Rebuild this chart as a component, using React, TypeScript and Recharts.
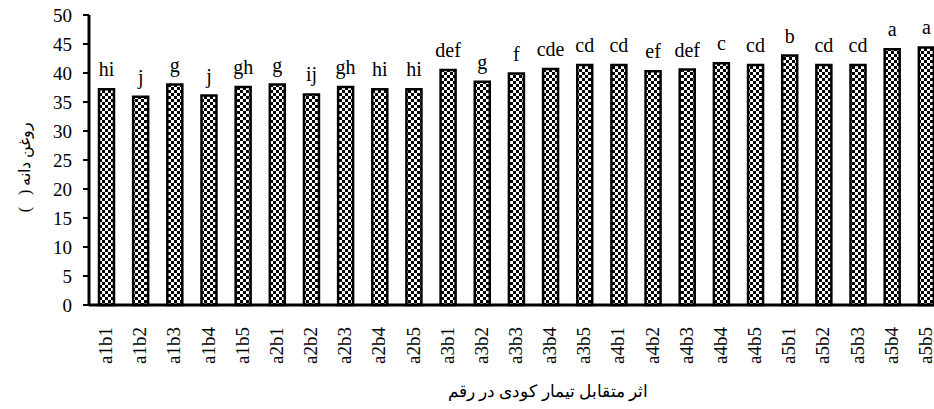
import { Bar, BarChart, LabelList, XAxis, YAxis } from "recharts";

const treatments = [
  "a1b1", "a1b2", "a1b3", "a1b4", "a1b5",
  "a2b1", "a2b2", "a2b3", "a2b4", "a2b5",
  "a3b1", "a3b2", "a3b3", "a3b4", "a3b5",
  "a4b1", "a4b2", "a4b3", "a4b4", "a4b5",
  "a5b1", "a5b2", "a5b3", "a5b4", "a5b5",
];

const seedOil = [
  37.2, 35.9, 38.0, 36.1, 37.6,
  38.0, 36.3, 37.6, 37.2, 37.2,
  40.5, 38.5, 39.9, 40.7, 41.4,
  41.4, 40.3, 40.6, 41.7, 41.4,
  43.0, 41.4, 41.4, 44.1, 44.4,
];

const letters = [
  "hi", "j", "g", "j", "gh",
  "g", "ij", "gh", "hi", "hi",
  "def", "g", "f", "cde", "cd",
  "cd", "ef", "def", "c", "cd",
  "b", "cd", "cd", "a", "a",
];

const yTicks = [0, 5, 10, 15, 20, 25, 30, 35, 40, 45, 50];

const data = treatments.map((name, i) => ({ name, oil: seedOil[i], group: letters[i] }));

const serif = "Liberation Serif";

function XTick({ x, y, payload }: any) {
  return (
    <g transform={`translate(${x},${y})`}>
      <text
        transform="rotate(-90)"
        x={-22}
        y={0}
        dy={6}
        textAnchor="end"
        fontFamily={serif}
        fontSize={19}
        fill="#000"
      >
        {payload.value}
      </text>
    </g>
  );
}

export default function App() {
  return (
    <div
      style={{
        position: "absolute",
        top: 0,
        left: 0,
        width: 934,
        height: 409,
        overflow: "hidden",
        background: "#fff",
      }}
    >
      <BarChart
        width={948}
        height={409}
        data={data}
        margin={{ top: 15, right: 5, left: 0, bottom: 0 }}
        barSize={15}
      >
        <defs>
          <pattern id="checker" width="6" height="6" patternUnits="userSpaceOnUse">
            <rect width="6" height="6" fill="#fff" />
            <rect width="3" height="3" fill="#000" />
            <rect x="3" y="3" width="3" height="3" fill="#000" />
          </pattern>
        </defs>
        <XAxis
          dataKey="name"
          height={104}
          interval={0}
          tickLine={false}
          tickSize={0}
          tickMargin={0}
          axisLine={{ stroke: "#000", strokeWidth: 3 }}
          tick={<XTick />}
          label={{
            value: "اثر متقابل تیمار کودی در رقم",
            position: "insideBottom",
            offset: 12,
            dx: 32,
            fill: "#000",
            fontSize: 17,
            fontFamily: serif,
          }}
        />
        <YAxis
          width={89}
          domain={[0, 50]}
          ticks={yTicks}
          interval={0}
          tickSize={6}
          tickMargin={11}
          axisLine={{ stroke: "#000", strokeWidth: 3 }}
          tickLine={{ stroke: "#000", strokeWidth: 2 }}
          tick={{ fill: "#000", fontSize: 19, fontFamily: serif }}
          label={{
            value: "روغن دانه (\u00A0\u00A0\u00A0)",
            angle: -90,
            position: "center",
            dx: -20,
            dy: 7,
            fill: "#000",
            fontSize: 16,
            fontFamily: serif,
            direction: "rtl",
          }}
        />
        <Bar dataKey="oil" fill="url(#checker)" stroke="#000" strokeWidth={2.5} isAnimationActive={false}>
          <LabelList
            dataKey="group"
            position="top"
            offset={13}
            fill="#000"
            fontSize={20}
            fontFamily={serif}
          />
        </Bar>
      </BarChart>
    </div>
  );
}
